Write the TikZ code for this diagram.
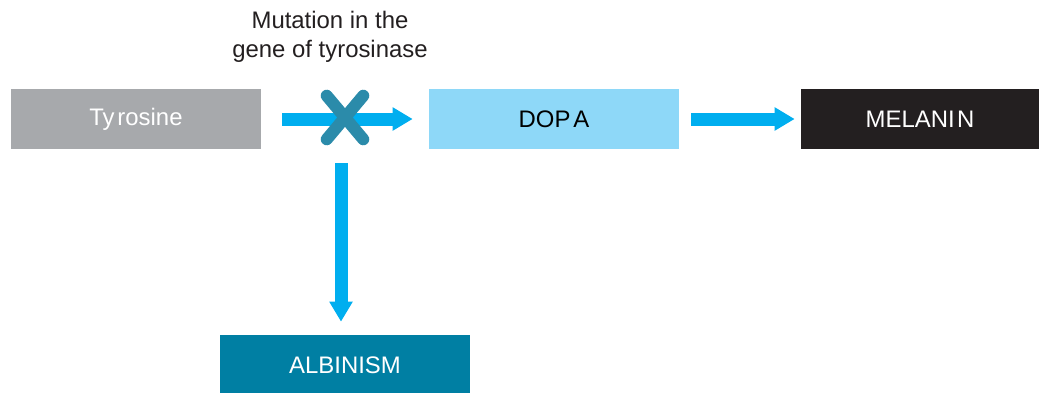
\documentclass[tikz,border=0pt]{standalone}
\usepackage{fontspec}
\setmainfont{Liberation Sans}
\usetikzlibrary{positioning, arrows.meta}
\definecolor{tyrgray}{HTML}{A7A9AC}
\definecolor{dopablue}{HTML}{8ED8F8}
\definecolor{melblack}{HTML}{231F20}
\definecolor{albteal}{HTML}{007FA3}
\definecolor{flowblue}{HTML}{00AEEF}
\definecolor{crossteal}{HTML}{2B8BAA}
\newcommand{\bigtxt}{\fontsize{17}{20.6}\selectfont}

\begin{document}
\begin{tikzpicture}[
		x=0.25mm, y=-0.25mm,
		stepbox/.style={rectangle, inner sep=0pt, minimum height=15mm, minimum width=62.5mm, font=\bigtxt},
		flow/.style={-{Triangle[length=5mm, width=5.5mm]}, line width=3.25mm, flowblue},
		xmark/.style={line width=3mm, line cap=round, crossteal},
	]
	\clip (0, 0) rectangle (1041, 392);
	\useasboundingbox (0, 0) rectangle (1041, 392);

	\node[stepbox, fill=tyrgray, text=white] (tyr) at (136, 119) {Ty\kern0.12em rosine};
	\node[stepbox, fill=dopablue, text=black] (dopa) at (554, 119) {DOP\kern0.12em A};
	\node[stepbox, fill=melblack, text=white, minimum width=59.5mm] (mel) at (920, 119) {MELANI\kern0.1em N};
	\node[stepbox, fill=albteal, text=white] (alb) at (345, 365) {ALBINISM};

	\node[inner sep=0pt, minimum width=9mm, minimum height=10.75mm] (cross) at (345, 117.5) {};
	\node[align=center, font=\bigtxt, text=melblack] (cross_label) at (330, 37) {Mutation in the\\gene of tyrosinase};

	\draw[flow, shorten <=5.25mm, shorten >=4mm] (tyr) -- (dopa);
	\draw[flow, shorten <=3mm, shorten >=1.5mm] (dopa) -- (mel);
	\draw[flow, shorten <=6mm, shorten >=3.25mm] ([xshift=-1mm]cross.south) -- ([xshift=-1mm]cross.south |- alb.north);

	\draw[xmark] (cross.north west) -- (cross.south east);
	\draw[xmark] (cross.north east) -- (cross.south west);
\end{tikzpicture}
\end{document}
